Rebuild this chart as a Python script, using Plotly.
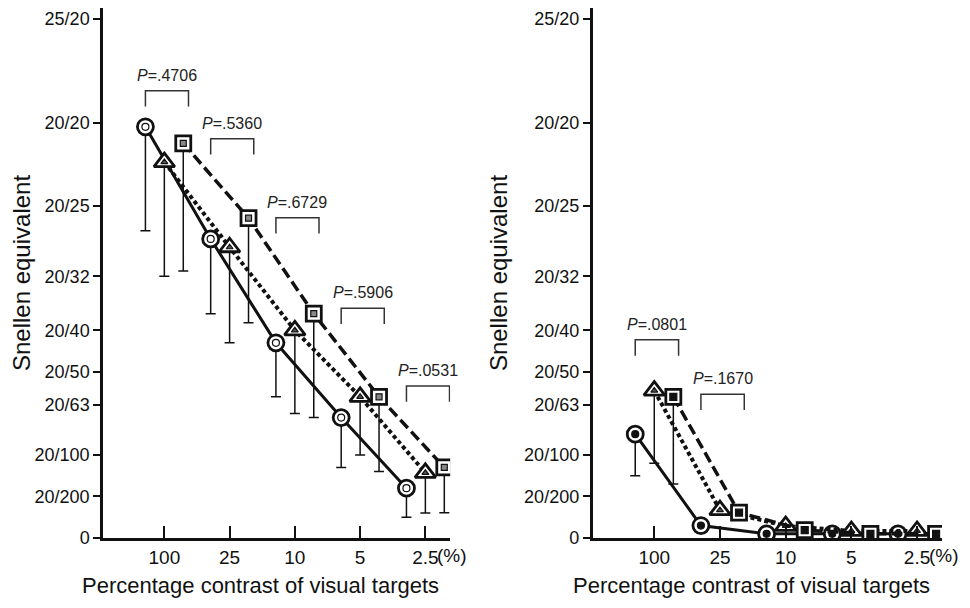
import plotly.graph_objects as go

# ---------------- data ----------------
groups = ["100", "25", "10", "5", "2.5"]
group_pos = [1, 2, 3, 4, 5]
offsets = {"circle": -0.29, "triangle": 0.0, "square": 0.29}

# y values: decimal visual acuity
ytick_vals = [0, 0.1, 0.2, 0.32, 0.4, 0.5, 0.63, 0.8, 1.0, 1.25]
ytick_text = ["0", "20/200", "20/100", "20/63", "20/50", "20/40", "20/32", "20/25", "20/20", "25/20"]

left_circle = [0.99, 0.72, 0.47, 0.29, 0.12]
left_circle_err = [0.25, 0.18, 0.13, 0.12, 0.07]
left_triangle = [0.905, 0.70, 0.50, 0.34, 0.157]
left_triangle_err = [0.275, 0.23, 0.20, 0.14, 0.097]
left_square = [0.95, 0.77, 0.54, 0.34, 0.17]
left_square_err = [0.307, 0.252, 0.25, 0.18, 0.109]

right_circle = [0.25, 0.03, 0.01, 0.01, 0.01]
right_circle_err = [0.10, 0, 0, 0, 0]
right_triangle = [0.355, 0.067, 0.029, 0.017, 0.017]
right_triangle_err = [0.175, 0, 0, 0, 0]
right_square = [0.34, 0.061, 0.019, 0.01, 0.01]
right_square_err = [0.21, 0, 0, 0, 0]

left_p = [".4706", ".5360", ".6729", ".5906", ".0531"]
left_p_groups = [1, 2, 3, 4, 5]
left_bracket_top = [1.077, 0.961, 0.771, 0.553, 0.366]
right_p = [".0801", ".1670"]
right_p_groups = [1, 2]
right_bracket_top = [0.477, 0.346]

x_title = "Percentage contrast of visual targets"
y_title = "Snellen equivalent"

# ---------------- styling ----------------
FONT = "Liberation Sans, Arial, Helvetica, sans-serif"
BLACK = "#111111"
line_styles = {"circle": dict(dash="solid", width=3),
               "triangle": dict(dash="4px,3px", width=4),
               "square": dict(dash="11px,5px", width=3.5)}

fig = go.Figure()


def add_series(xa, ya, kind, values, errs, inner_color, inner_fill, inner_size):
    xs = [g + offsets[kind] for g in group_pos]
    # error bars (downward only)
    fig.add_trace(go.Scatter(
        x=xs, y=values, mode="markers", xaxis=xa, yaxis=ya,
        marker=dict(size=1, color="rgba(0,0,0,0)"),
        error_y=dict(type="data", symmetric=False, array=[0] * len(values),
                     arrayminus=errs, color=BLACK, thickness=1.5, width=5),
        showlegend=False, hoverinfo="skip"))
    # connecting line
    fig.add_trace(go.Scatter(
        x=xs, y=values, mode="lines", xaxis=xa, yaxis=ya,
        line=dict(color=BLACK, **line_styles[kind]),
        showlegend=False, hoverinfo="skip"))
    # outer marker
    sym = {"circle": "circle", "triangle": "triangle-up", "square": "square"}[kind]
    size = {"circle": 16, "triangle": 18, "square": 15}[kind]
    fig.add_trace(go.Scatter(
        x=xs, y=values, mode="markers", xaxis=xa, yaxis=ya,
        marker=dict(symbol=sym, size=size, color="white",
                    line=dict(color=BLACK, width=2.8)),
        showlegend=False, hoverinfo="skip"))
    # inner marker
    fig.add_trace(go.Scatter(
        x=xs, y=values, mode="markers", xaxis=xa, yaxis=ya,
        marker=dict(symbol=sym, size=inner_size, color=inner_fill,
                    line=dict(color=inner_color, width=1.2)),
        showlegend=False, hoverinfo="skip"))


# left panel
add_series("x", "y", "circle", left_circle, left_circle_err, BLACK, "white", 7)
add_series("x", "y", "triangle", left_triangle, left_triangle_err, BLACK, "#555555", 6)
add_series("x", "y", "square", left_square, left_square_err, BLACK, "#888888", 6)
# right panel
add_series("x2", "y2", "circle", right_circle, right_circle_err, BLACK, BLACK, 7)
add_series("x2", "y2", "triangle", right_triangle, right_triangle_err, BLACK, "#555555", 6)
add_series("x2", "y2", "square", right_square, right_square_err, BLACK, BLACK, 7)

# P-value brackets
LEG = 0.038
for xa, ya, ps, gs, tops in [("x", "y", left_p, left_p_groups, left_bracket_top),
                             ("x2", "y2", right_p, right_p_groups, right_bracket_top)]:
    for p, g, t in zip(ps, gs, tops):
        x0, x1 = g - 0.29, g + 0.37
        fig.add_trace(go.Scatter(
            x=[x0, x0, x1, x1], y=[t - LEG, t, t, t - LEG], mode="lines",
            xaxis=xa, yaxis=ya, line=dict(color="#333333", width=1.5),
            showlegend=False, hoverinfo="skip"))
        fig.add_annotation(x=(x0 + x1) / 2, y=t + 0.037, xref=xa, yref=ya,
                           text="<i>P</i>=" + p, showarrow=False,
                           font=dict(family=FONT, size=16, color="#222222"),
                           xanchor="center", yanchor="middle")

# page has an 8px body margin: figure is placed at (8, 8)
W, H = 962, 600
L, R, T, B = 93, 28, 0, 70
pw = W - L - R
ph = H - T - B
XR = [0.06, 5.38]
YR = [0, 1.276]
axis_common = dict(showgrid=False, zeroline=False, showline=True,
                   linecolor=BLACK, linewidth=2.5)
xaxis_style = dict(range=XR, tickmode="array", tickvals=group_pos, ticktext=groups,
                   ticks="inside", ticklen=12, tickwidth=1.5, tickcolor=BLACK,
                   tickfont=dict(family=FONT, size=19, color=BLACK),
                   **axis_common)
yaxis_style = dict(range=YR, tickmode="array", tickvals=ytick_vals, ticktext=ytick_text,
                   ticks="outside", ticklen=7, tickwidth=1.5, tickcolor=BLACK,
                   tickfont=dict(family=FONT, size=18, color=BLACK),
                   title=dict(text=y_title,
                              font=dict(family=FONT, size=24, color=BLACK), standoff=10),
                   **axis_common)

dom1 = [0, 348 / pw]
dom2 = [(591.7 - 8 - L) / pw, 1]
fig.update_layout(
    width=W, height=H, margin=dict(l=L, r=R, t=T, b=B),
    plot_bgcolor="white", paper_bgcolor="white",
    xaxis=dict(domain=dom1, anchor="y", **xaxis_style),
    yaxis=dict(domain=[0, 1], anchor="x", **yaxis_style),
    xaxis2=dict(domain=dom2, anchor="y2", **xaxis_style),
    yaxis2=dict(domain=[0, 1], anchor="x2", **yaxis_style),
)

# x-axis titles (slightly left of the axis centre, as in the original)
for dom in (dom1, dom2):
    cx = (dom[0] + dom[1]) / 2 - 16 / pw
    fig.add_annotation(x=cx, y=-47 / ph, xref="paper", yref="paper",
                       text=x_title, showarrow=False, xanchor="center", yanchor="middle",
                       font=dict(family=FONT, size=22, color=BLACK))

# "(%)" suffix after the last contrast tick label
for xa in ["x", "x2"]:
    fig.add_annotation(x=5.17, y=-17 / ph, xref=xa, yref="paper",
                       text="(%)", showarrow=False, xanchor="left", yanchor="middle",
                       borderpad=0,
                       font=dict(family=FONT, size=19, color=BLACK))

fig.write_html("out.html")
